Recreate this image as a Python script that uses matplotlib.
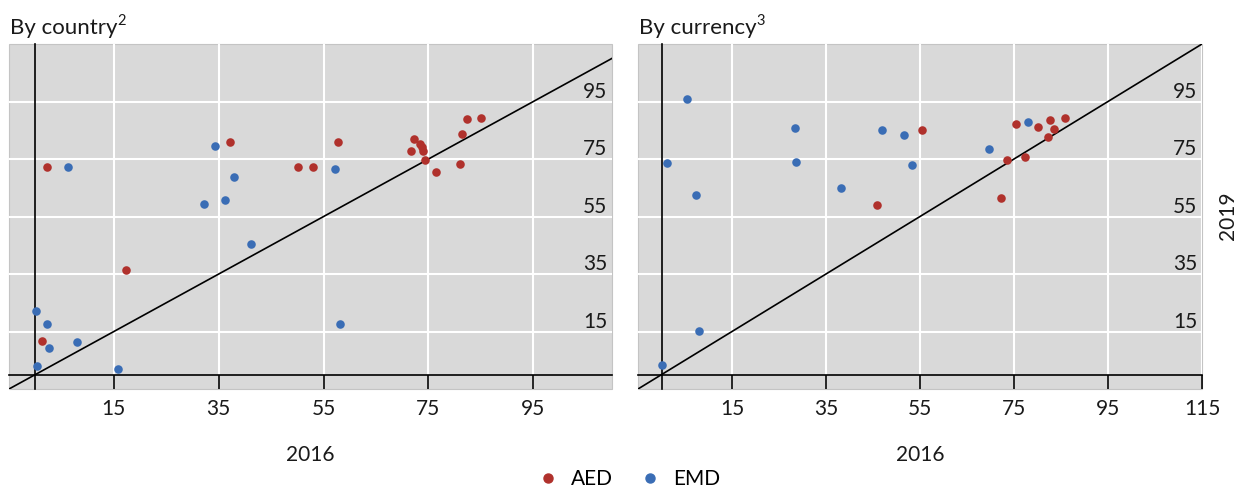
import matplotlib
matplotlib.use('Agg')
import matplotlib.pyplot as plt
import matplotlib.transforms as mtransforms
from matplotlib.lines import Line2D

plt.rcParams['font.family'] = ['Lato', 'DejaVu Sans']

# ---------------- data ----------------
country_aed_x = [72.2, 73.3, 73.7, 74.0, 71.6, 74.3, 76.5, 81.0, 81.3, 82.4, 85.0,
                 37.1, 57.8, 50.2, 52.9, 2.2, 17.3, 1.2]
country_aed_y = [82.0, 80.2, 79.1, 77.7, 77.7, 74.7, 70.4, 73.1, 83.6, 89.0, 89.3,
                 80.9, 80.9, 72.3, 72.1, 72.2, 36.3, 11.7]
country_emd_x = [34.3, 57.2, 37.9, 36.1, 32.2, 41.2, 6.3, 0.1, 2.2, 2.6, 8.0, 0.25, 15.8, 58.1]
country_emd_y = [79.5, 71.6, 68.6, 60.8, 59.4, 45.4, 72.2, 22.1, 17.6, 9.4, 11.3, 3.1, 2.0, 17.6]

currency_aed_x = [55.5, 45.8, 75.5, 80.2, 82.7, 83.5, 85.9, 82.3, 73.5, 77.4, 72.3]
currency_aed_y = [85.0, 59.1, 87.3, 86.1, 88.5, 85.5, 89.4, 82.8, 74.8, 75.8, 61.3]
currency_emd_x = [5.5, 1.1, 7.3, 8.0, 28.4, 28.7, 38.1, 47.0, 51.7, 53.4, 0.1, 77.9, 69.7]
currency_emd_y = [95.8, 73.6, 62.5, 15.2, 85.9, 74.1, 65.0, 85.2, 83.5, 72.9, 3.2, 88.0, 78.4]

country_xticks = [15, 35, 55, 75, 95]
currency_xticks = [15, 35, 55, 75, 95, 115]
yticks = [15, 35, 55, 75, 95]

RED = '#b0312c'
BLUE = '#3a6db5'
BG = '#d9d9d9'
TXT = '#1a1a1a'

W, H = 1236, 494
fig = plt.figure(figsize=(W / 100, H / 100), dpi=100)

ax1 = fig.add_axes([9 / W, 1 - 389 / H, 603 / W, 345 / H])
ax2 = fig.add_axes([638 / W, 1 - 389 / H, 564 / W, 345 / H])


def style(ax, xmax, xticks, title, sup, rx, ry, bx, by):
    ax.set_facecolor(BG)
    ax.patch.set_edgecolor('#c4c4c4')
    ax.patch.set_linewidth(0.8)
    ax.set_xlim(-5, xmax)
    ax.set_ylim(-5, 115)
    for s in ['top', 'right']:
        ax.spines[s].set_visible(False)
    for s in ['left', 'bottom']:
        ax.spines[s].set_position(('data', 0))
        ax.spines[s].set_color('black')
        ax.spines[s].set_linewidth(1.2)
        ax.spines[s].set_zorder(2.6)
    ax.set_xticks(xticks)
    ax.set_xticklabels([str(t) for t in xticks])
    ax.set_yticks(yticks)
    ax.tick_params(axis='x', direction='out', length=10.4, width=1.2,
                   color='black', pad=7, labelsize=15, labelcolor=TXT)
    ax.tick_params(axis='y', length=0, labelleft=False)
    ax.grid(True, color='white', linewidth=1.5)
    ax.set_axisbelow(True)
    ax.plot([-5, 120], [-5, 120], color='black', linewidth=1.2, zorder=2)
    ax.scatter(rx, ry, s=38, color=RED, zorder=4, linewidths=0)
    ax.scatter(bx, by, s=38, color=BLUE, zorder=4, linewidths=0)
    trans = mtransforms.blended_transform_factory(ax.transAxes, ax.transData)
    for v in yticks:
        ax.text(0.992, v, str(v), transform=trans, ha='right', va='bottom',
                fontsize=15, color=TXT)
    ax.set_xlabel('2016', fontsize=15, labelpad=19, color=TXT)
    t = ax.text(0.001, 1.0, title, ha='left', va='bottom', fontsize=16, color=TXT,
                transform=ax.transAxes + mtransforms.ScaledTranslation(0, 6 / 100, fig.dpi_scale_trans))
    ax.annotate(sup, xy=(1.0, 0.52), xycoords=t, xytext=(0.5, 0), textcoords='offset points',
                ha='left', va='bottom', fontsize=10.5, color=TXT)


style(ax1, 110, country_xticks, 'By country', '2',
      country_aed_x, country_aed_y, country_emd_x, country_emd_y)
style(ax2, 115, currency_xticks, 'By currency', '3',
      currency_aed_x, currency_aed_y, currency_emd_x, currency_emd_y)

fig.text(1228 / W, 1 - 216 / H, '2019', rotation=90, ha='center', va='center',
         fontsize=15, color=TXT)

handles = [Line2D([], [], marker='o', linestyle='none', color=RED, markersize=6.5, label='AED'),
           Line2D([], [], marker='o', linestyle='none', color=BLUE, markersize=6.5, label='EMD')]
fig.legend(handles=handles, loc='lower center', bbox_to_anchor=(0.508, -0.028), ncol=2,
           frameon=False, fontsize=15, handletextpad=0.5, columnspacing=1.2,
           handlelength=1.2)

fig.savefig('out.png', dpi=100)
